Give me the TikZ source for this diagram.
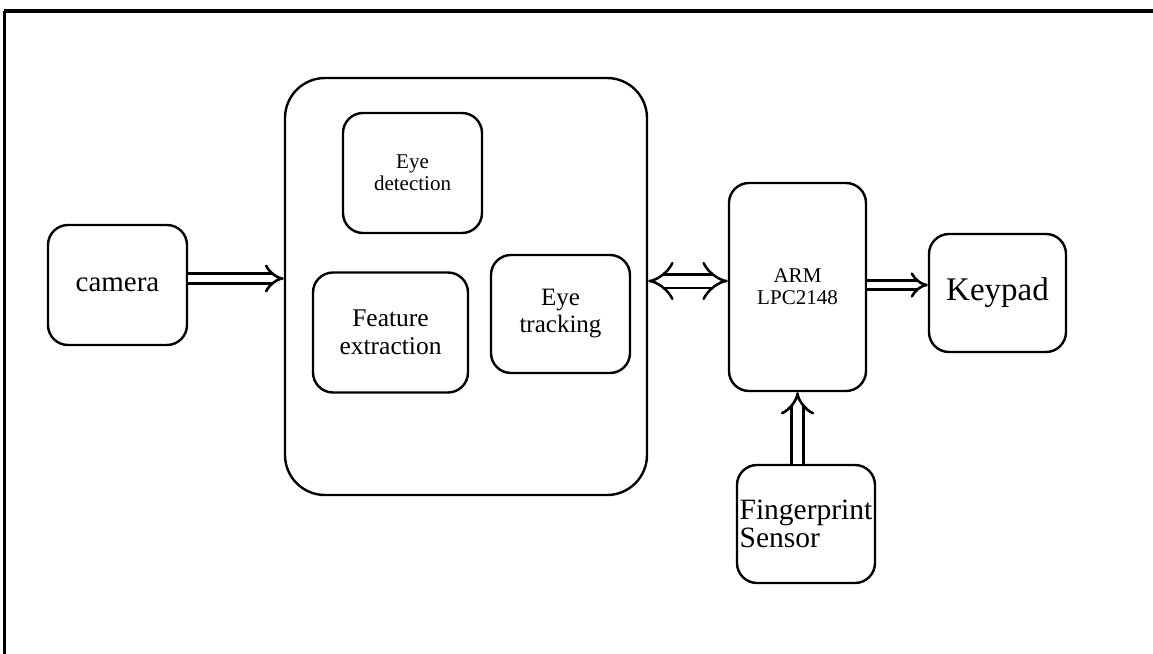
\documentclass[tikz,border=0pt]{standalone}
\usepackage{fontspec}
\setmainfont{Liberation Serif}
\usetikzlibrary{arrows.meta, positioning, calc}

\begin{document}
\begin{tikzpicture}[
        x=0.5pt, y=-0.5pt,
        box/.style={rectangle, draw=black, rounded corners=10pt, line width=1.2pt, align=center, inner sep=0pt, minimum width=69.5pt, minimum height=60pt},
        link/.style={double, double distance=3.5pt, line width=1.3pt, -{Implies[scale=1.4]}},
        biglink/.style={double, double distance=5.5pt, line width=1.25pt, {Implies[scale=1.3]}-{Implies[scale=1.3]}}
    ]
        \useasboundingbox (0,0) rectangle (1153,654);
        % frame lines
        \draw[line width=1.75pt] (4,11) -- (1153,11);
        \draw[line width=1.25pt] (4.5,11) -- (4.5,654);

        % processing block with its three stages
        \node[box, minimum width=181pt, minimum height=208.5pt, rounded corners=20pt] (proc) at (466,286.5) {};
        \node[box, font=\fontsize{10.5}{11}\selectfont] (eyedet) at (412.5,173) {Eye\\detection};
        \node[box, minimum width=77.5pt, font=\fontsize{12.75}{14}\selectfont] (feature) at (390.5,332.5) {Feature\\extraction};
        \node[box, minimum height=59pt, font=\fontsize{12.5}{13.5}\selectfont] (track) at (560.5,314) {Eye\\tracking};

        \node[box, font=\fontsize{14.5}{16}\selectfont] (camera) at (117.5,285) {camera};
        \node[box, minimum width=68.5pt, minimum height=104pt, font=\fontsize{10.5}{11}\selectfont] (arm) at (797.5,287) {ARM\\LPC2148};
        \node[box, minimum width=68.5pt, minimum height=59pt, font=\fontsize{16.5}{18}\selectfont] (keypad) at (997.5,293) {Keypad};
        \node[box, minimum width=69pt, minimum height=59pt, align=left, font=\fontsize{14.75}{14}\selectfont] (finger) at (806,524) {Fingerprint\\Sensor};

        % connectors
        \coordinate (c1) at ([yshift=3.25pt]camera.east);
        \draw[link] (c1) -- (c1 -| proc.west);
        \coordinate (c2) at ([yshift=2.75pt]proc.east);
        \draw[biglink] (c2) -- (c2 -| arm.west);
        \coordinate (c3) at ([yshift=1pt]arm.east);
        \draw[link, double distance=3pt] (c3) -- (c3 -| keypad.west);
        \draw[link, double distance=4.5pt] (finger.north -| arm.south) -- (arm.south);
    \end{tikzpicture}
\end{document}
